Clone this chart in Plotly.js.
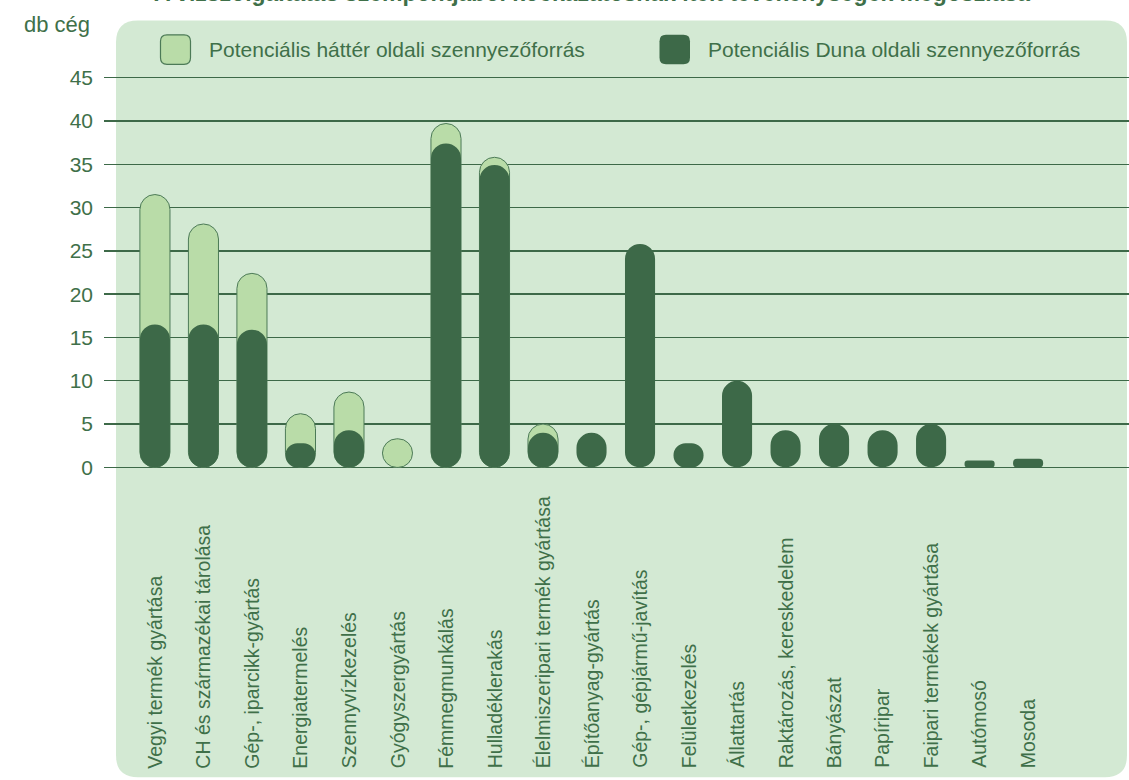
<!DOCTYPE html>
<html>
<head>
<meta charset="utf-8">
<script src="https://cdn.plot.ly/plotly-3.0.1.min.js"></script>
<style>html,body{margin:0;padding:0;background:#fff;}#chart{width:1129px;height:780px;}</style>
</head>
<body>
<div id="chart"></div>
<script>
// ---- data ----
const categories = [
  "Vegyi termék gyártása", "CH és származékai tárolása", "Gép-, iparcikk-gyártás",
  "Energiatermelés", "Szennyvízkezelés", "Gyógyszergyártás", "Fémmegmunkálás",
  "Hulladéklerakás", "Élelmiszeripari termék gyártása", "Építőanyag-gyártás",
  "Gép-, gépjármű-javítás", "Felületkezelés", "Állattartás", "Raktározás, kereskedelem",
  "Bányászat", "Papíripar", "Faipari termékek gyártása", "Autómosó", "Mosoda"
];
const hatterTotal = [31.5, 28.1, 22.4, 6.2, 8.7, 3.3, 39.7, 35.8, 5.0, null, null, null, null, null, null, null, null, null, null];
const duna = [16.5, 16.5, 15.9, 2.8, 4.3, null, 37.4, 34.9, 4.0, 4.0, 25.8, 2.8, 10.0, 4.3, 5.0, 4.3, 5.0, 0.8, 1.0];
const yTicks = [0, 5, 10, 15, 20, 25, 30, 35, 40, 45];
const titleText = "A vízszolgáltatás szempontjából kockázatosnak ítélt tevékenységek megoszlása";
const yLabel = "db cég";
const seriesNames = ["Potenciális háttér oldali szennyezőforrás", "Potenciális Duna oldali szennyezőforrás"];

const W = 1129, H = 780;
const panelColor = "#d3e9d3", lightColor = "#b9dca8", darkColor = "#3d6948", edgeColor = "#4c7a57", textColor = "#3f7049";
const FONT = "Liberation Sans, Arial, sans-serif";
const M = {l: 104, r: 0, t: 74.7, b: 309.7};
const plotW = W - M.l - M.r, plotH = H - M.t - M.b;
const px = v => (v - M.l) / plotW;
const py = v => (H - M.b - v) / plotH;
function roundRectPath(x0, y0, x1, y1, r) {
  const P = (x, y) => px(x).toFixed(5) + "," + py(y).toFixed(5);
  return "M" + P(x0 + r, y0) + " L" + P(x1 - r, y0) + " Q" + P(x1, y0) + " " + P(x1, y0 + r) +
    " L" + P(x1, y1 - r) + " Q" + P(x1, y1) + " " + P(x1 - r, y1) +
    " L" + P(x0 + r, y1) + " Q" + P(x0, y1) + " " + P(x0, y1 - r) +
    " L" + P(x0, y0 + r) + " Q" + P(x0, y0) + " " + P(x0 + r, y0) + " Z";
}
const BW = 0.62;
const traces = [
  {type: "bar", x: categories, y: hatterTotal, base: categories.map(() => 0), width: BW,
   marker: {color: lightColor, cornerradius: 15, line: {color: edgeColor, width: 1}}, hoverinfo: "skip", name: seriesNames[0]},
  {type: "bar", x: categories, y: duna, base: categories.map(() => 0.0001), width: BW,
   marker: {color: darkColor, cornerradius: 15, line: {width: 0}}, hoverinfo: "skip", name: seriesNames[1]}
];
const shapes = [
  {type: "path", xref: "paper", yref: "paper", layer: "below", path: roundRectPath(116, 20, 1127, 778, 22), fillcolor: panelColor, line: {width: 0}},
  {type: "path", xref: "paper", yref: "paper", layer: "above", path: roundRectPath(160.5, 34.5, 190.5, 64, 6.5), fillcolor: lightColor, line: {color: edgeColor, width: 1.2}},
  {type: "path", xref: "paper", yref: "paper", layer: "above", path: roundRectPath(659.5, 34.5, 690, 64, 6.5), fillcolor: darkColor, line: {width: 0}}
];
const annotations = [
  {xref: "paper", yref: "paper", x: px(92), y: py(24), xanchor: "right", yanchor: "middle", showarrow: false, text: yLabel, font: {family: FONT, size: 22, color: textColor}},
  {xref: "paper", yref: "paper", x: px(207), y: py(49.5), xanchor: "left", yanchor: "middle", showarrow: false, text: seriesNames[0], font: {family: FONT, size: 21, color: textColor}},
  {xref: "paper", yref: "paper", x: px(706), y: py(49.5), xanchor: "left", yanchor: "middle", showarrow: false, text: seriesNames[1], font: {family: FONT, size: 21, color: textColor}}
];
categories.forEach(c => annotations.push({xref: "x", yref: "paper", x: c, y: py(770), xanchor: "center", yanchor: "bottom",
  textangle: -90, showarrow: false, text: c, borderpad: 0, font: {family: FONT, size: 19.5, color: textColor}}));
const layout = {
  width: W, height: H, margin: M, paper_bgcolor: "#ffffff", plot_bgcolor: "rgba(0,0,0,0)",
  barmode: "overlay", showlegend: false, font: {family: FONT, color: textColor},
  title: {text: "<b>" + titleText + "</b>", x: 592 / W, xanchor: "center", xref: "container", y: 1 - 1 / H, yanchor: "bottom", yref: "container",
          font: {family: FONT, size: 23, color: textColor}},
  xaxis: {type: "category", range: [-1.05, 20.08], showticklabels: false, showgrid: false, zeroline: false, showline: false, ticks: "", fixedrange: true},
  yaxis: {range: [-0.3, 45.3], tickvals: yTicks, ticktext: yTicks.map(String), ticks: "", ticklabelstandoff: 10, showgrid: true, gridcolor: darkColor, gridwidth: 1.4,
          zeroline: true, zerolinecolor: darkColor, zerolinewidth: 1.4, showline: false, tickfont: {family: FONT, size: 21, color: textColor}, fixedrange: true},
  shapes: shapes, annotations: annotations
};
Plotly.newPlot("chart", traces, layout, {displayModeBar: false, staticPlot: true});
</script>
</body>
</html>
